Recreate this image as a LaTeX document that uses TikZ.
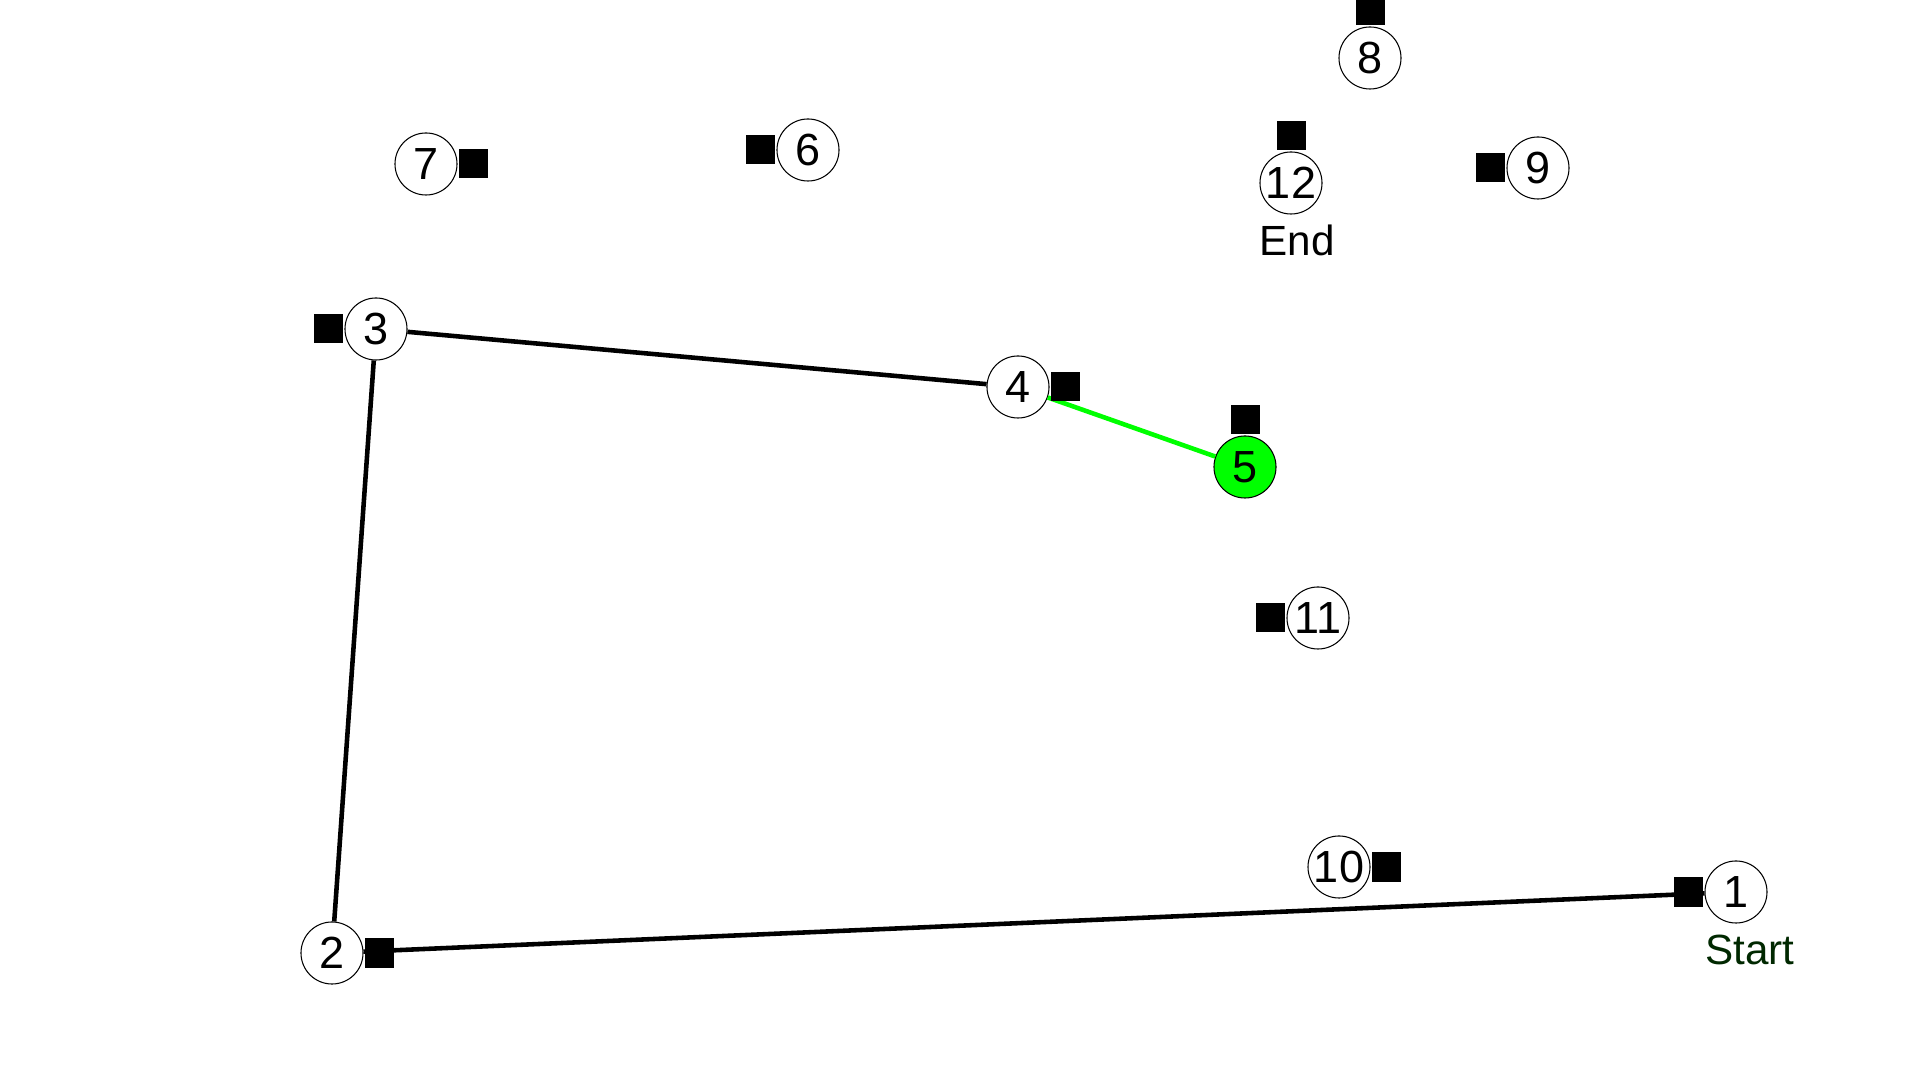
\documentclass[tikz,border=0pt]{standalone}
\usepackage{fontspec}
\setmainfont{Liberation Sans}
\usepackage{xcolor}
\usepackage{tikz}
\definecolor{startgreen}{RGB}{0,40,0}
\definecolor{visitgreen}{RGB}{0,255,0}
\tikzset{px/.style={x=0.01cm, y=-0.01cm},
   city/.style={circle, draw, line width=0.3pt, fill=white, minimum size=0.62cm, inner sep=0pt, font=\fontsize{12.8}{14}\selectfont},
   pin/.style={rectangle, fill=black, minimum size=0.29cm, inner sep=0pt, outer sep=0.015cm},
   route/.style={line width=1.3pt},
   tag/.style={font=\fontsize{12}{13}\selectfont}}

\begin{document}
\begin{tikzpicture}[px]
\useasboundingbox (0,0) rectangle (1920,1080);

\node[city] (c1) at (1736,892) {1};
\node[city] (c2) at (332,953) {2};
\node[city] (c3) at (376,329) {3};
\node[city] (c4) at (1018,387) {4};
\node[city, fill=visitgreen] (c5) at (1245,467) {5};
\node[city] (c6) at (808,150) {6};
\node[city] (c7) at (426,164) {7};
\node[city] (c8) at (1370,58) {8};
\node[city] (c9) at (1538,168) {9};
\node[city] (c10) at (1339,867) {10};
\node[city] (c11) at (1318,618) {11};
\node[city] (c12) at (1291,183) {12};

\node[tag, text=startgreen] (start) at (1750,950) {Start};
\node[tag] (end) at (1297,240) {End};

\draw[route] (c1)--(c2)--(c3)--(c4);
\draw[route, visitgreen] (c4)--(c5);

\node[pin, anchor=east] (p1) at (c1.west) {};
\node[pin, anchor=west] (p2) at (c2.east) {};
\node[pin, anchor=east] (p3) at (c3.west) {};
\node[pin, anchor=west] (p4) at (c4.east) {};
\node[pin, anchor=south] (p5) at (c5.north) {};
\node[pin, anchor=east] (p6) at (c6.west) {};
\node[pin, anchor=west] (p7) at (c7.east) {};
\node[pin, anchor=south] (p8) at (c8.north) {};
\node[pin, anchor=east] (p9) at (c9.west) {};
\node[pin, anchor=west] (p10) at (c10.east) {};
\node[pin, anchor=east] (p11) at (c11.west) {};
\node[pin, anchor=south] (p12) at (c12.north) {};
\end{tikzpicture}
\end{document}
